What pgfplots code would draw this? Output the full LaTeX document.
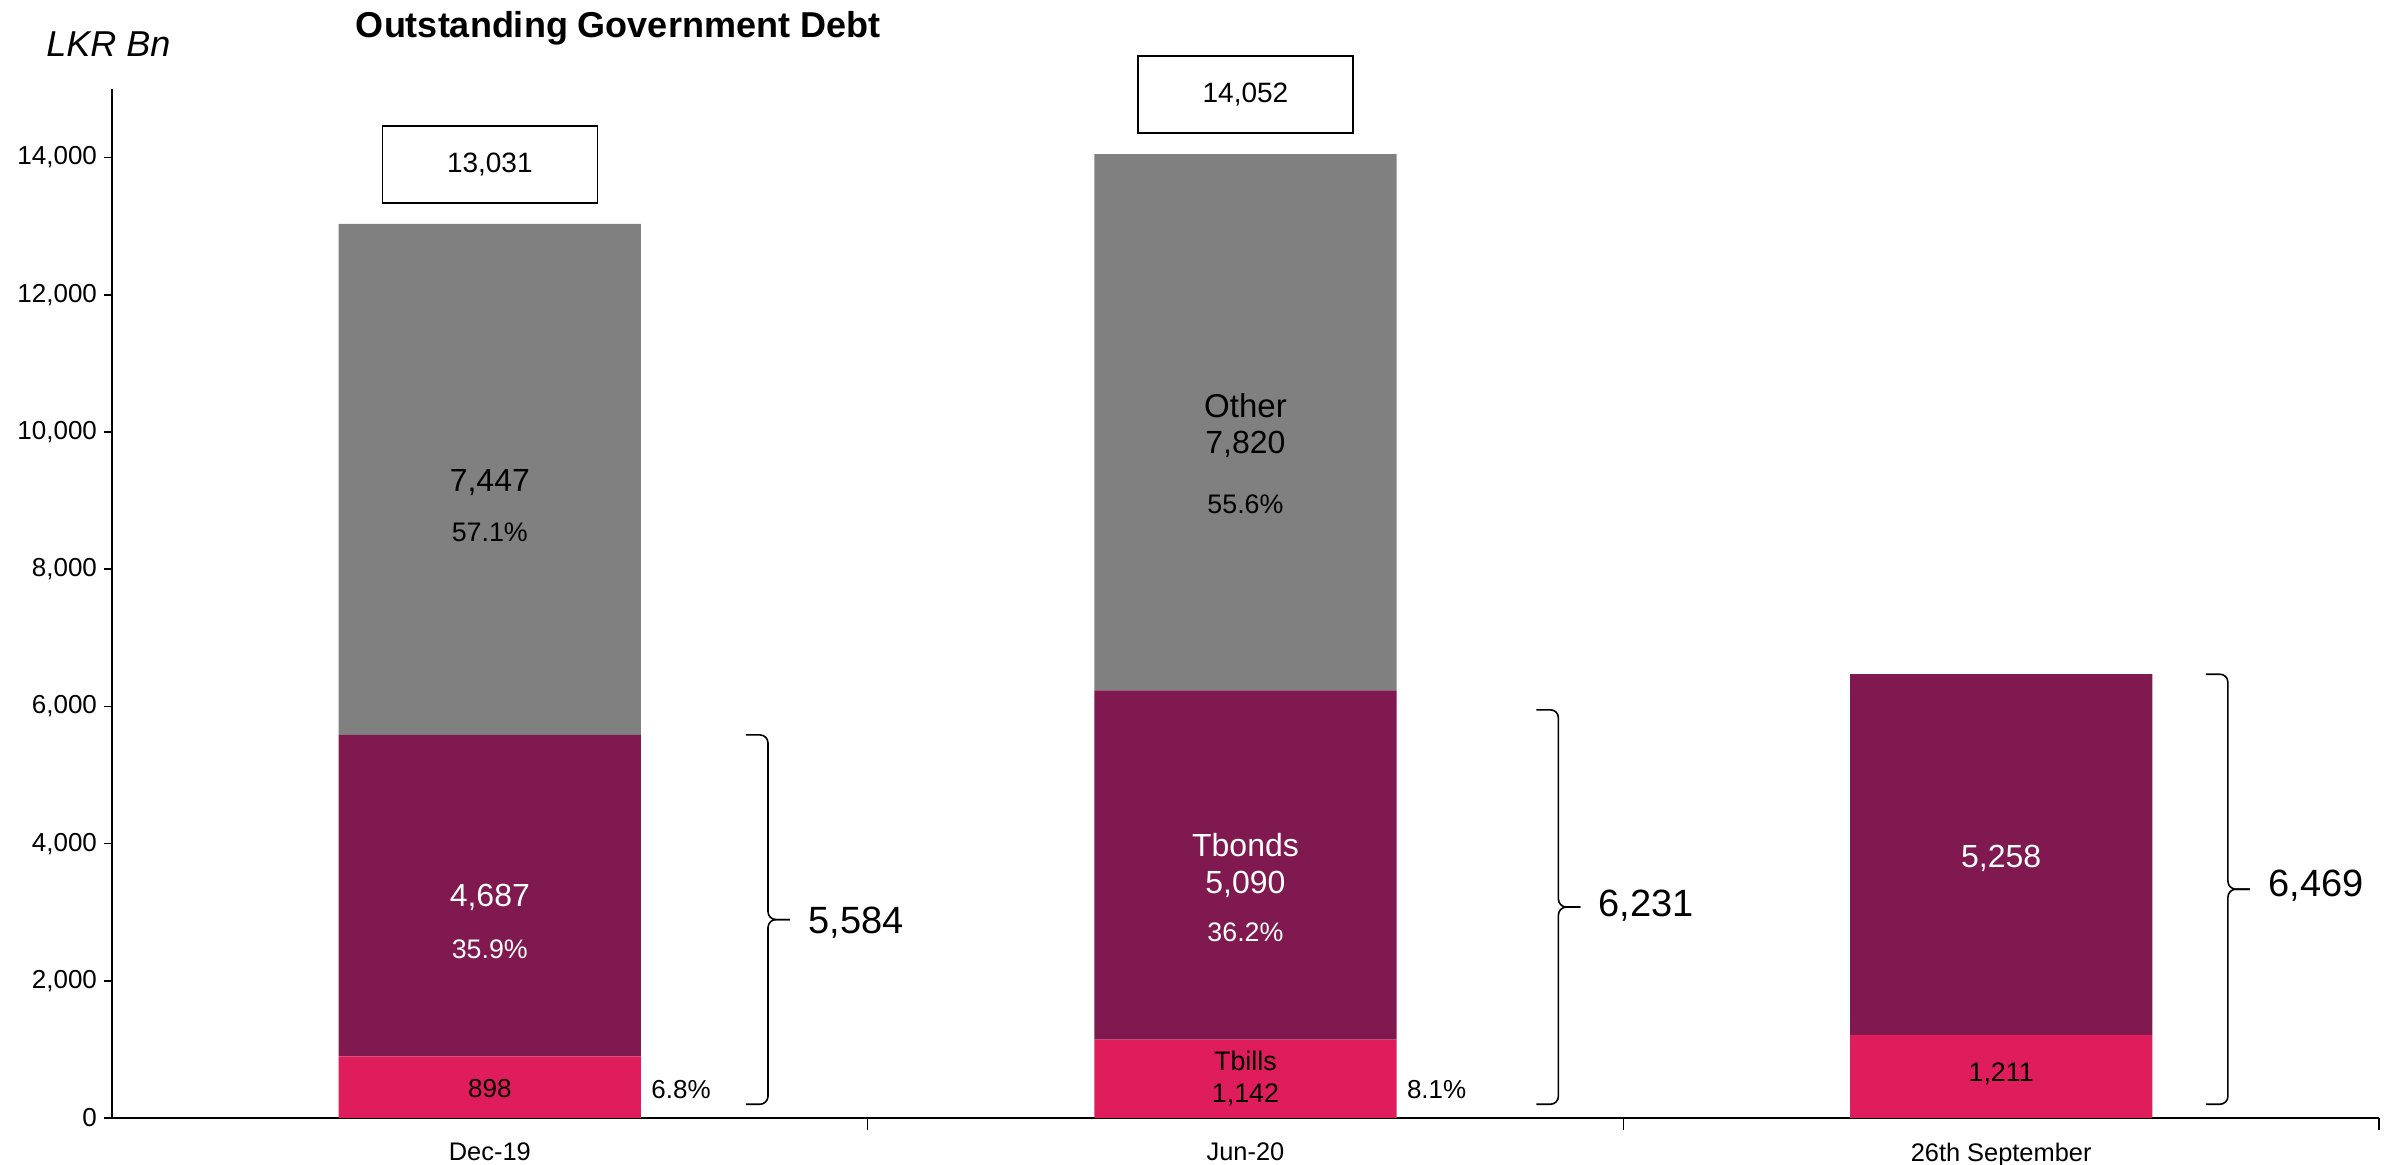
\documentclass[border=0pt]{standalone}
\usepackage{fontspec}
\setmainfont{Liberation Sans}
\usepackage{pgfplots}
\pgfplotsset{compat=1.18}
\usepackage{pgfplotstable}
\definecolor{tbill}{RGB}{223,28,92}
\definecolor{tbond}{RGB}{128,25,79}
\definecolor{oth}{RGB}{128,128,128}

\pgfplotstableread{
x tbills tbonds other
0 898 4687 7447
1 1142 5090 7820
2 1211 5258 0
}\debt

\begin{document}
\begin{tikzpicture}
\begin{axis}[
  at={(0,0)}, anchor=south west,
  scale only axis, width=1133.5pt, height=514.5pt,
  xmin=-0.5, xmax=2.5, ymin=0, ymax=15000,
  ybar stacked, bar width=0.4,
  axis x line*=bottom, axis y line*=left,
  axis line style={line width=0.8pt,-},
  xtick pos=left, ytick pos=left,
  xtick={0,1,2}, xticklabels={Dec-19,Jun-20,26th September},
  minor xtick={0.5,1.5,2.5},
  major x tick style={draw=none},
  minor x tick style={draw=black, line width=0.8pt},
  y tick style={draw=black, line width=0.8pt},
  tick align=outside, major tick length=4pt, minor tick length=6pt,
  ytick={0,2000,...,14000},
  scaled y ticks=false,
  /pgf/number format/1000 sep={,},
  /pgf/number format/assume math mode=true,
  yticklabel style={font=\fontsize{13}{15}\selectfont},
  xticklabel style={font=\fontsize{12.7}{15}\selectfont, yshift=-5pt},
  enlargelimits=false,
  clip=false,
]
\addplot[fill=tbill, draw=none] table[x=x,y=tbills]{\debt};
\addplot[fill=tbond, draw=none] table[x=x,y=tbonds]{\debt};
\addplot[fill=oth, draw=none] table[x=x,y=other]{\debt};

\coordinate (tA) at (axis cs:0,13031);
\coordinate (tB) at (axis cs:1,14052);
\coordinate (a1) at (axis cs:0,9265);
\coordinate (a2) at (axis cs:0,8530);
\coordinate (a3) at (axis cs:0,3215);
\coordinate (a4) at (axis cs:0,2457);
\coordinate (a5) at (axis cs:0,430);
\coordinate (a6) at (axis cs:0.2,415);
\coordinate (b1) at (axis cs:1,10378);
\coordinate (b2) at (axis cs:1,9825);
\coordinate (b3) at (axis cs:1,8952);
\coordinate (b4) at (axis cs:1,3973);
\coordinate (b5) at (axis cs:1,3406);
\coordinate (b6) at (axis cs:1,2700);
\coordinate (b7) at (axis cs:1,830);
\coordinate (b8) at (axis cs:1,342);
\coordinate (b9) at (axis cs:1.2,415);
\coordinate (c1) at (axis cs:2,3790);
\coordinate (c2) at (axis cs:2,650);

% braces
\draw[line width=0.8pt, rounded corners=4pt] (axis cs:0.339,5584) -- ([xshift=11pt]axis cs:0.339,5584) -- ([xshift=11pt]axis cs:0.339,2892) -- ([xshift=22pt]axis cs:0.339,2892);
\draw[line width=0.8pt, rounded corners=4pt] (axis cs:0.339,200) -- ([xshift=11pt]axis cs:0.339,200) -- ([xshift=11pt]axis cs:0.339,2892) -- ([xshift=22pt]axis cs:0.339,2892);
\node[font=\fontsize{19}{22}\selectfont, anchor=west, inner sep=0pt, xshift=31pt] at (axis cs:0.339,2850) {5,584};

\draw[line width=0.8pt, rounded corners=4pt] (axis cs:1.385,5950) -- ([xshift=11pt]axis cs:1.385,5950) -- ([xshift=11pt]axis cs:1.385,3075) -- ([xshift=22pt]axis cs:1.385,3075);
\draw[line width=0.8pt, rounded corners=4pt] (axis cs:1.385,200) -- ([xshift=11pt]axis cs:1.385,200) -- ([xshift=11pt]axis cs:1.385,3075) -- ([xshift=22pt]axis cs:1.385,3075);
\node[font=\fontsize{19}{22}\selectfont, anchor=west, inner sep=0pt, xshift=31pt] at (axis cs:1.385,3092) {6,231};

\draw[line width=0.8pt, rounded corners=4pt] (axis cs:2.271,6469) -- ([xshift=11pt]axis cs:2.271,6469) -- ([xshift=11pt]axis cs:2.271,3335) -- ([xshift=22pt]axis cs:2.271,3335);
\draw[line width=0.8pt, rounded corners=4pt] (axis cs:2.271,200) -- ([xshift=11pt]axis cs:2.271,200) -- ([xshift=11pt]axis cs:2.271,3335) -- ([xshift=22pt]axis cs:2.271,3335);
\node[font=\fontsize{19}{22}\selectfont, anchor=west, inner sep=0pt, xshift=31pt] at (axis cs:2.271,3381) {6,469};
\end{axis}

% total boxes
\node[draw, line width=0.8pt, minimum width=107.5pt, minimum height=38.5pt, anchor=south, yshift=10pt, font=\fontsize{14}{16}\selectfont] at (tA) {13,031};
\node[draw, line width=0.8pt, minimum width=107.5pt, minimum height=38.5pt, anchor=south, yshift=10pt, font=\fontsize{14}{16}\selectfont] at (tB) {14,052};

% Dec-19 labels
\node[font=\fontsize{16}{18}\selectfont] at (a1) {7,447};
\node[font=\fontsize{13.4}{15}\selectfont] at (a2) {57.1\%};
\node[font=\fontsize{16}{18}\selectfont, text=white] at (a3) {4,687};
\node[font=\fontsize{13.4}{15}\selectfont, text=white] at (a4) {35.9\%};
\node[font=\fontsize{13}{15}\selectfont] at (a5) {898};
\node[font=\fontsize{13}{15}\selectfont, anchor=west, inner sep=0pt, xshift=5pt] at (a6) {6.8\%};

% Jun-20 labels
\node[font=\fontsize{16.5}{18}\selectfont] at (b1) {Other};
\node[font=\fontsize{16}{18}\selectfont] at (b2) {7,820};
\node[font=\fontsize{13.4}{15}\selectfont] at (b3) {55.6\%};
\node[font=\fontsize{16}{18}\selectfont, text=white] at (b4) {Tbonds};
\node[font=\fontsize{16}{18}\selectfont, text=white] at (b5) {5,090};
\node[font=\fontsize{13.4}{15}\selectfont, text=white] at (b6) {36.2\%};
\node[font=\fontsize{13.4}{15}\selectfont] at (b7) {Tbills};
\node[font=\fontsize{13.4}{15}\selectfont] at (b8) {1,142};
\node[font=\fontsize{13}{15}\selectfont, anchor=west, inner sep=0pt, xshift=5pt] at (b9) {8.1\%};

% 26th September labels
\node[font=\fontsize{16}{18}\selectfont, text=white] at (c1) {5,258};
\node[font=\fontsize{13.4}{15}\selectfont] at (c2) {1,211};

\node[font=\bfseries\fontsize{18}{21}\selectfont] at (253pt,545pt) {Outstanding Government Debt};
\node[font=\itshape\fontsize{18}{21}\selectfont] at (-1.75pt,537pt) {LKR Bn};
\pgfresetboundingbox
\useasboundingbox (-56pt,-23.5pt) rectangle (1142.5pt,559pt);
\end{tikzpicture}
\end{document}
